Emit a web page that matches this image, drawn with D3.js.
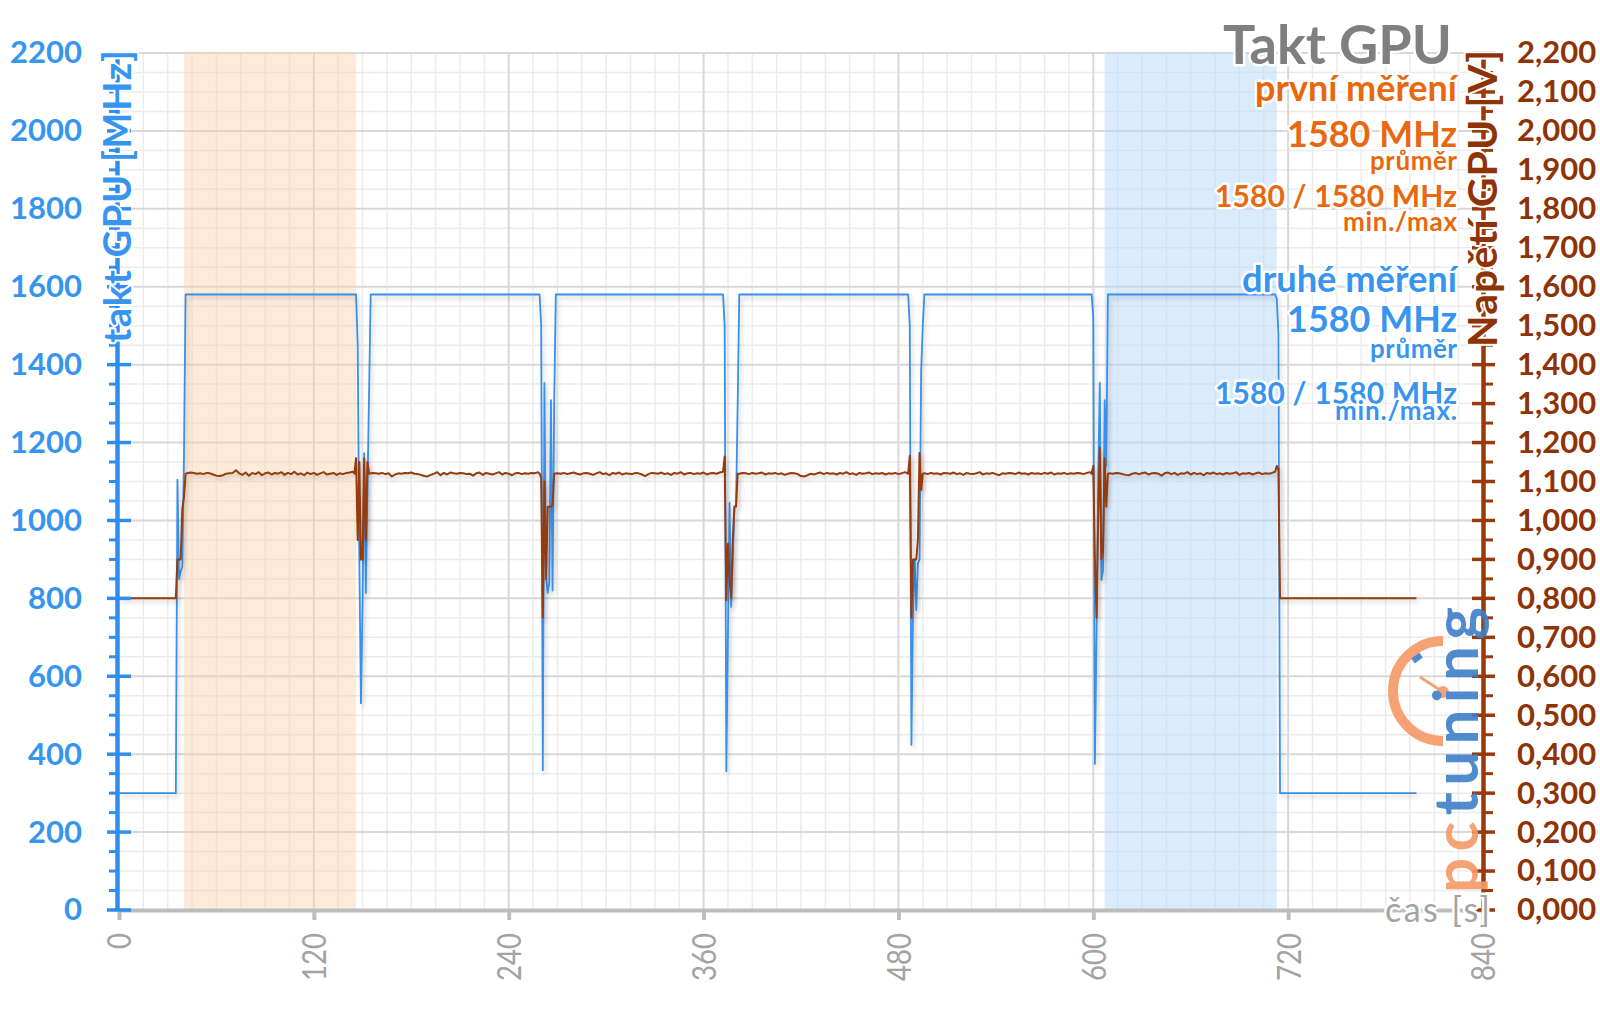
<!DOCTYPE html>
<html><head><meta charset="utf-8">
<script src="https://cdn.jsdelivr.net/npm/d3@7"></script>
<style>
body{margin:0;background:#fff;}
svg{display:block;}
text{font-family:Lato,'Open Sans',sans-serif;}
</style>
</head><body>
<svg id="c" width="1600" height="1009"></svg>
<script>
// ---------- DATA ----------
const xTicks = [0,120,240,360,480,600,720,840];
const mhzTicks = [0,200,400,600,800,1000,1200,1400,1600,1800,2000,2200];
const voltTicks = [0,0.1,0.2,0.3,0.4,0.5,0.6,0.7,0.8,0.9,1.0,1.1,1.2,1.3,1.4,1.5,1.6,1.7,1.8,1.9,2.0,2.1,2.2];
const shadeFirst = [40,146];   // první měření
const shadeSecond = [607,713]; // druhé měření

const titleText = "Takt GPU";
const firstLines = ["první měření","1580 MHz","průměr","1580 / 1580 MHz","min./max"];
const secondLines = ["druhé měření","1580 MHz","průměr","1580 / 1580 MHz","min./max."];
const yTitleLeft = "takt GPU [MHz]";
const yTitleRight = "Napětí GPU [V]";
const xTitle = "čas [s]";

// GPU clock [MHz] (time s, value)
const clockStart = [[0,300],[35,300],[36,1105],[37,850],[38,870],[39,880],[40,1160],[41,1580]];
const clockDip1 = [[146,1580],[147,1450],[148,900],[149,531],[150,788],[151,1173],[152,814],[155,1580]];
const clockDip2 = [[259,1580],[260,1500],[261,359],[262,1353],[263,855],[264,814],[265,840],[266,1309],[267,820],[268,1300],[269,1580]];
const clockDip3 = [[372,1580],[373,1500],[374,356],[375,700],[376,1045],[377,778],[378,900],[379,1035],[380,1040],[381,1300],[382,1580]];
const clockDip4 = [[486,1580],[487,1500],[488,424],[489,770],[490,900],[491,770],[492,890],[493,900],[494,1386],[495,1500],[496,1580]];
const clockDip5 = [[599,1580],[600,1520],[601,375],[602,700],[603,1100],[604,1353],[605,847],[606,870],[607,1309],[608,1140],[609,1580]];
const clockEnd = [[712,1580],[713,1570],[714,1480],[715,300],[799,300]];

// GPU voltage [V]
const voltStart = [[0,0.8],[35,0.8],[36,0.9],[38,0.9],[39,1.03],[40,1.06],[41,1.12]];
const voltDip1 = [[145,1.12],[146,1.16],[147,0.95],[148,1.15],[149,0.90],[150,0.90],[151,1.16],[152,0.95],[153,1.15],[154,1.12]];
const voltDip2 = [[259,1.12],[260,1.11],[261,0.75],[262,1.10],[263,0.85],[264,1.035],[265,1.035],[266,1.035],[267,1.04],[268,1.12]];
const voltDip3 = [[372,1.125],[373,1.164],[374,0.795],[375,0.94],[376,0.85],[377,0.80],[378,0.95],[379,1.035],[380,1.035],[381,1.12]];
const voltDip4 = [[486,1.12],[487,1.166],[488,0.75],[489,0.90],[490,0.90],[491,0.90],[492,0.95],[493,1.173],[494,1.078],[495,1.12]];
const voltDip5 = [[599,1.12],[600,1.14],[601,0.90],[602,0.75],[603,1.0],[604,1.186],[605,0.90],[606,0.92],[607,1.16],[608,1.035],[609,1.12]];
const voltEnd = [[713,1.14],[714,1.13],[715,0.8],[799,0.8]];

// load phases, voltage sampled every 2 s
const loadStarts = [42,156,270,382,496,610];
const loadStep = 2;
const voltLoad1 = [1.121,1.123,1.122,1.120,1.121,1.119,1.122,1.121,1.118,1.115,1.114,1.116,1.120,1.121,1.122,1.129,1.121,1.117,1.123,1.115,1.122,1.119,1.124,1.116,1.121,1.123,1.118,1.122,1.120,1.124,1.117,1.122,1.119,1.125,1.118,1.121,1.116,1.123,1.119,1.122,1.117,1.121,1.124,1.118,1.120,1.122,1.117,1.121,1.119,1.122,1.123,1.125];
const voltLoad2 = [1.122,1.121,1.120,1.122,1.119,1.121,1.113,1.118,1.121,1.120,1.122,1.121,1.123,1.120,1.119,1.117,1.114,1.113,1.117,1.120,1.124,1.116,1.122,1.118,1.123,1.121,1.120,1.122,1.121,1.119,1.120,1.115,1.121,1.123,1.117,1.122,1.120,1.118,1.121,1.124,1.118,1.122,1.120,1.116,1.121,1.122,1.119,1.121,1.120,1.122,1.121,1.124];
const voltLoad3 = [1.121,1.120,1.122,1.119,1.121,1.123,1.120,1.118,1.121,1.122,1.120,1.117,1.121,1.124,1.119,1.121,1.116,1.122,1.120,1.123,1.118,1.121,1.120,1.119,1.122,1.121,1.118,1.114,1.119,1.122,1.121,1.120,1.123,1.119,1.121,1.117,1.122,1.120,1.124,1.118,1.121,1.122,1.119,1.121,1.120,1.123,1.118,1.121,1.122,1.120,1.123];
const voltLoad4 = [1.120,1.122,1.121,1.119,1.122,1.120,1.121,1.123,1.118,1.121,1.120,1.122,1.119,1.121,1.117,1.120,1.122,1.121,1.119,1.114,1.113,1.116,1.120,1.118,1.121,1.123,1.119,1.122,1.120,1.121,1.118,1.122,1.120,1.124,1.119,1.121,1.117,1.122,1.120,1.121,1.123,1.119,1.121,1.120,1.122,1.118,1.121,1.120,1.122,1.119,1.121,1.124];
const voltLoad5 = [1.121,1.119,1.122,1.120,1.121,1.118,1.122,1.121,1.120,1.123,1.119,1.121,1.117,1.122,1.120,1.119,1.121,1.124,1.118,1.121,1.120,1.122,1.119,1.116,1.121,1.120,1.122,1.121,1.119,1.123,1.120,1.121,1.118,1.122,1.120,1.121,1.119,1.122,1.120,1.123,1.118,1.121,1.120,1.122,1.119,1.121,1.120,1.122,1.121,1.119,1.122,1.124];
const voltLoad6 = [1.121,1.120,1.122,1.121,1.119,1.117,1.116,1.120,1.122,1.119,1.121,1.123,1.118,1.121,1.122,1.120,1.115,1.121,1.123,1.119,1.122,1.117,1.121,1.120,1.124,1.118,1.122,1.119,1.121,1.116,1.122,1.120,1.123,1.119,1.121,1.118,1.122,1.120,1.121,1.124,1.117,1.121,1.120,1.122,1.118,1.121,1.123,1.119,1.121,1.120,1.122,1.125];

// ---------- BUILD SERIES ----------
const clockPts = [].concat(clockStart, clockDip1, clockDip2, clockDip3, clockDip4, clockDip5, clockEnd);
const voltLoads = [voltLoad1,voltLoad2,voltLoad3,voltLoad4,voltLoad5,voltLoad6];
const voltDips = [voltDip1,voltDip2,voltDip3,voltDip4,voltDip5];
let voltPts = voltStart.slice();
voltLoads.forEach((arr,i)=>{
  arr.forEach((v,j)=>voltPts.push([loadStarts[i]+loadStep*j, v]));
  if(i<voltDips.length) voltPts = voltPts.concat(voltDips[i]);
});
voltPts = voltPts.concat(voltEnd);

// ---------- DRAW ----------
const BLUE = "#3a8fe8", BLUE_TXT = "#3795f0", BROWN = "#953a0d", BROWN_TXT = "#8e3305",
      ORANGE_TXT = "#e8680f", GRAY_TXT = "#7f7f7f";
const svg = d3.select("#c");
const x = d3.scaleLinear().domain([0,840]).range([119,1483]);
const yM = d3.scaleLinear().domain([0,2200]).range([910,53]);
const yV = d3.scaleLinear().domain([0,2.2]).range([910,53]);

const defs = svg.append("defs");
const f = defs.append("filter").attr("id","sh").attr("x","-5%").attr("y","-5%").attr("width","115%").attr("height","115%");
f.append("feDropShadow").attr("dx",2).attr("dy",3).attr("stdDeviation",2).attr("flood-color","#000").attr("flood-opacity",0.2);

// grid
const grid = svg.append("g");
const minorX = d3.range(0,841,15).filter(v=>v%120!==0);
const minorY = d3.range(0,2201,50).filter(v=>v%200!==0);
grid.selectAll(".mx").data(minorX).join("line")
  .attr("x1",d=>x(d)).attr("x2",d=>x(d)).attr("y1",yM(2200)).attr("y2",yM(0))
  .attr("stroke","#ececec").attr("stroke-width",1.5);
grid.selectAll(".my").data(minorY).join("line")
  .attr("x1",x(0)).attr("x2",x(840)).attr("y1",d=>yM(d)).attr("y2",d=>yM(d))
  .attr("stroke","#ececec").attr("stroke-width",1.5);
grid.selectAll(".Mx").data(xTicks.slice(1)).join("line")
  .attr("x1",d=>x(d)).attr("x2",d=>x(d)).attr("y1",yM(2200)).attr("y2",yM(0))
  .attr("stroke","#d8d8d8").attr("stroke-width",2);
grid.selectAll(".My").data(mhzTicks.slice(1)).join("line")
  .attr("x1",x(0)).attr("x2",x(840)).attr("y1",d=>yM(d)).attr("y2",d=>yM(d))
  .attr("stroke","#d8d8d8").attr("stroke-width",2);

// shaded intervals
svg.append("rect").attr("x",x(shadeFirst[0])).attr("width",x(shadeFirst[1])-x(shadeFirst[0]))
  .attr("y",yM(2200)).attr("height",yM(0)-yM(2200)).attr("fill","#fbd3ad").attr("opacity",0.45);
svg.append("rect").attr("x",x(shadeSecond[0])).attr("width",x(shadeSecond[1])-x(shadeSecond[0]))
  .attr("y",yM(2200)).attr("height",yM(0)-yM(2200)).attr("fill","#b6d7f8").attr("opacity",0.5);

// lines
const lineM = d3.line().x(d=>x(d[0])).y(d=>yM(d[1]));
const lineV = d3.line().x(d=>x(d[0])).y(d=>yV(d[1]));
svg.append("path").datum(clockPts).attr("d",lineM).attr("fill","none")
  .attr("stroke",BLUE).attr("stroke-width",1.8).attr("stroke-linejoin","round").attr("filter","url(#sh)");
svg.append("path").datum(voltPts).attr("d",lineV).attr("fill","none")
  .attr("stroke",BROWN).attr("stroke-width",2).attr("stroke-linejoin","round").attr("filter","url(#sh)");

// bottom axis
const ax = svg.append("g").attr("transform","translate(0,910)")
  .call(d3.axisBottom(x).tickValues(xTicks).tickSize(10).tickSizeOuter(0));
ax.select(".domain").attr("stroke","#bdbdbd").attr("stroke-width",4);
ax.selectAll(".tick line").attr("stroke","#bdbdbd").attr("stroke-width",4);
ax.selectAll(".tick text")
  .attr("transform","rotate(-90)").attr("x",-23).attr("y",0).attr("dy","0.36em")
  .attr("text-anchor","end").attr("fill","#a3a3a3").attr("font-size",33)
  .each(function(d){ d3.select(this).attr("textLength", String(d).length*16).attr("lengthAdjust","spacingAndGlyphs"); });

// left axis
const al = svg.append("g").attr("transform","translate(117,0)")
  .call(d3.axisLeft(yM).tickValues(mhzTicks).tickFormat(d3.format("d")).tickSize(0).tickPadding(35).tickSizeOuter(0));
al.select(".domain").attr("stroke","#2e8ef0").attr("stroke-width",4.5);
al.selectAll(".tick text").attr("fill",BLUE_TXT).attr("font-size",31).attr("font-weight",700);
al.selectAll(".mj").data(mhzTicks).join("line").attr("x1",-10).attr("x2",14)
  .attr("y1",d=>yM(d)).attr("y2",d=>yM(d)).attr("stroke","#2e8ef0").attr("stroke-width",3.5);
al.selectAll(".mn").data(minorY).join("line").attr("x1",-8).attr("x2",0)
  .attr("y1",d=>yM(d)).attr("y2",d=>yM(d)).attr("stroke","#2e8ef0").attr("stroke-width",3);

// right axis
const ar = svg.append("g").attr("transform","translate(1483,0)")
  .call(d3.axisRight(yV).tickValues(voltTicks).tickSize(0).tickPadding(34).tickSizeOuter(0)
    .tickFormat(d=>d3.format(".3f")(d).replace(".",",")));
ar.select(".domain").attr("stroke","#9a3a0a").attr("stroke-width",4.5);
ar.selectAll(".tick text").attr("fill",BROWN_TXT).attr("font-size",31).attr("font-weight",700);
ar.selectAll(".mj").data(voltTicks).join("line").attr("x1",-11).attr("x2",12)
  .attr("y1",d=>yV(d)).attr("y2",d=>yV(d)).attr("stroke","#9a3a0a").attr("stroke-width",3.5);
ar.selectAll(".mn").data(d3.range(0.05,2.2,0.1)).join("line").attr("x1",0).attr("x2",10)
  .attr("y1",d=>yV(d)).attr("y2",d=>yV(d)).attr("stroke","#9a3a0a").attr("stroke-width",3);

// halo helper
function halo(sel, w){ return sel.attr("stroke","#fff").attr("stroke-width",w).attr("stroke-linejoin","round").attr("paint-order","stroke"); }

// axis titles
halo(svg.append("text").attr("transform","translate(131,50) rotate(-90)").attr("text-anchor","end")
  .attr("fill",BLUE_TXT).attr("font-size",38).attr("font-weight",700)
  .attr("textLength",293).attr("lengthAdjust","spacing").text(yTitleLeft),4);
halo(svg.append("text").attr("transform","translate(1497,50) rotate(-90)").attr("text-anchor","end")
  .attr("fill",BROWN_TXT).attr("font-size",41).attr("font-weight",700)
  .attr("textLength",297).attr("lengthAdjust","spacing").text(yTitleRight),4);
halo(svg.append("text").attr("x",1490).attr("y",922).attr("text-anchor","end")
  .attr("fill","#a3a3a3").attr("font-size",34).attr("textLength",105).attr("lengthAdjust","spacing").text(xTitle),5);

// legend block (fit each line to its width, capped in size)
function fitText(txt, xEnd, yBase, width, color, size, weight, maxSize){
  const t = svg.append("text").attr("x",xEnd).attr("y",yBase).attr("text-anchor","end")
    .attr("fill",color).attr("font-weight",weight).attr("font-size",size).text(txt);
  const w = t.node().getComputedTextLength();
  const s = Math.min(maxSize, size*width/w);
  t.attr("font-size", s);
  if (s < size*width/w) t.attr("textLength", width).attr("lengthAdjust","spacing");
  halo(t,5);
  return t;
}
fitText(titleText,1452,64,229,GRAY_TXT,52,700,60);
const firstY = [101,147,170,207,231], firstW = [202,170,87,242,114], firstMax = [40,36,26,30,26];
const secondY = [292,332,358,404,420], secondW = [215,170,87,242,122], secondMax = [40,36,26,30,26];
firstLines.forEach((s,i)=>fitText(s,1457,firstY[i],firstW[i],ORANGE_TXT,30,700,firstMax[i]));
secondLines.forEach((s,i)=>fitText(s,1457,secondY[i],secondW[i],BLUE_TXT,30,700,secondMax[i]));

// pctuning logo (watermark)
const logo = svg.append("g").attr("opacity",0.9);
logo.append("path").attr("d","M1443,641 A50,50 0 0 0 1443,741").attr("fill","none")
  .attr("stroke","#f59a66").attr("stroke-width",10);
logo.append("line").attr("x1",1420).attr("y1",677).attr("x2",1443).attr("y2",692)
  .attr("stroke","#f59a66").attr("stroke-width",3);
logo.append("circle").attr("cx",1443).attr("cy",692).attr("r",6).attr("fill","#f59a66");
logo.append("line").attr("x1",1413).attr("y1",661).attr("x2",1421).attr("y2",655)
  .attr("stroke","#3c7fc8").attr("stroke-width",6);
const lt = logo.append("text").attr("transform","translate(1478,893) rotate(-90)")
  .attr("font-size",62).attr("font-weight",700).attr("textLength",286).attr("lengthAdjust","spacing");
lt.append("tspan").attr("fill","#f59a66").text("pc");
lt.append("tspan").attr("fill","#3c7fc8").text("tuning");
</script>
</body></html>
